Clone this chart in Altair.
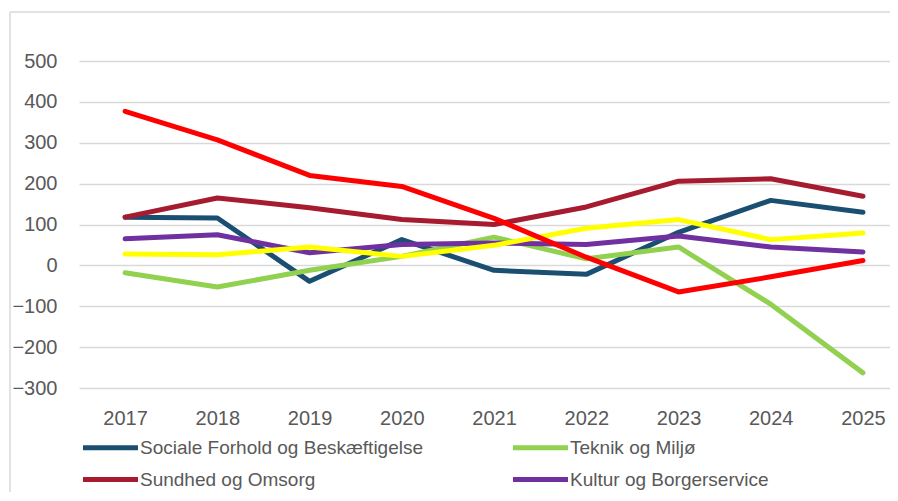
import altair as alt
import pandas as pd

years = [2017, 2018, 2019, 2020, 2021, 2022, 2023, 2024, 2025]

series_names = [
    "Sociale Forhold og Beskæftigelse",
    "Teknik og Miljø",
    "Sundhed og Omsorg",
    "Kultur og Borgerservice",
    "Serie 5",
    "Serie 6",
]

sociale = [118, 116, -39, 63, -12, -22, 81, 159, 130]
teknik = [-18, -53, -12, 22, 69, 16, 45, -95, -263]
sundhed = [118, 165, 141, 112, 100, 143, 206, 212, 169]
kultur = [65, 75, 31, 51, 55, 51, 72, 45, 33]
serie5 = [28, 26, 45, 22, 49, 91, 112, 63, 79]
serie6 = [377, 307, 220, 193, 115, 20, -65, -28, 12]

colors = ["#1B4F72", "#92D050", "#A61B2F", "#7030A0", "#FFFF00", "#FF0000"]
# legend shows the first four series (grid fills column by column)
legend_names = [series_names[0], series_names[2], series_names[1], series_names[3]]

all_values = [sociale, teknik, sundhed, kultur, serie5, serie6]
rows = []
for order, (name, vals) in enumerate(zip(series_names, all_values)):
    for y, v in zip(years, vals):
        rows.append({"year": y, "value": v, "series": name, "order": order})
df = pd.DataFrame(rows)

FONT = "Liberation Sans"
GRAY = "#595959"

lines = alt.Chart(df).mark_line(strokeWidth=5, strokeCap="round", strokeJoin="round").encode(
    x=alt.X("year:Q", title=None,
            scale=alt.Scale(domain=[2016.5, 2025.293], nice=False, zero=False),
            axis=alt.Axis(values=years, format="d", labelAngle=0, ticks=False, domain=False,
                          grid=False, labelPadding=20, labelFontSize=20, labelColor=GRAY,
                          labelFont=FONT, labelFlush=False, labelOverlap=False)),
    y=alt.Y("value:Q", title=None,
            scale=alt.Scale(domain=[-300, 500], nice=False, zero=False),
            axis=alt.Axis(values=[-300, -200, -100, 0, 100, 200, 300, 400, 500],
                          ticks=False, domain=False, grid=True, gridColor="#D9D9D9",
                          gridWidth=1.3, labelPadding=22, labelFontSize=20,
                          labelColor=GRAY, labelFont=FONT)),
    color=alt.Color("series:N",
                    scale=alt.Scale(domain=series_names, range=colors),
                    legend=alt.Legend(values=legend_names, title=None, orient="none",
                                      legendX=22, legendY=377, columns=2,
                                      symbolType="M-5,0L5,0", symbolSize=121,
                                      symbolStrokeWidth=5, labelOffset=20,
                                      labelFontSize=19, labelFont=FONT, labelColor=GRAY,
                                      rowPadding=11, columnPadding=79, labelLimit=400)),
    order=alt.Order("order:Q"),
    detail="series:N",
)

frame_data = alt.Data(values=[{"a": 1}])
frame_left = alt.Chart(frame_data).mark_rule(color="#D9D9D9", strokeWidth=1.5).encode(
    x=alt.value(-69), y=alt.value(-49), y2=alt.value(440))
frame_top = alt.Chart(frame_data).mark_rule(color="#D9D9D9", strokeWidth=1.5).encode(
    x=alt.value(-69), x2=alt.value(820), y=alt.value(-49))

chart = alt.layer(frame_left, frame_top, lines).properties(
    width=811, height=327,
    autosize=alt.AutoSizeParams(type="none"),
    padding={"left": 71, "top": 53, "right": 0, "bottom": 104},
).configure_view(stroke=None)

chart.save("out.html", embed_options={"renderer": "svg", "actions": False})
